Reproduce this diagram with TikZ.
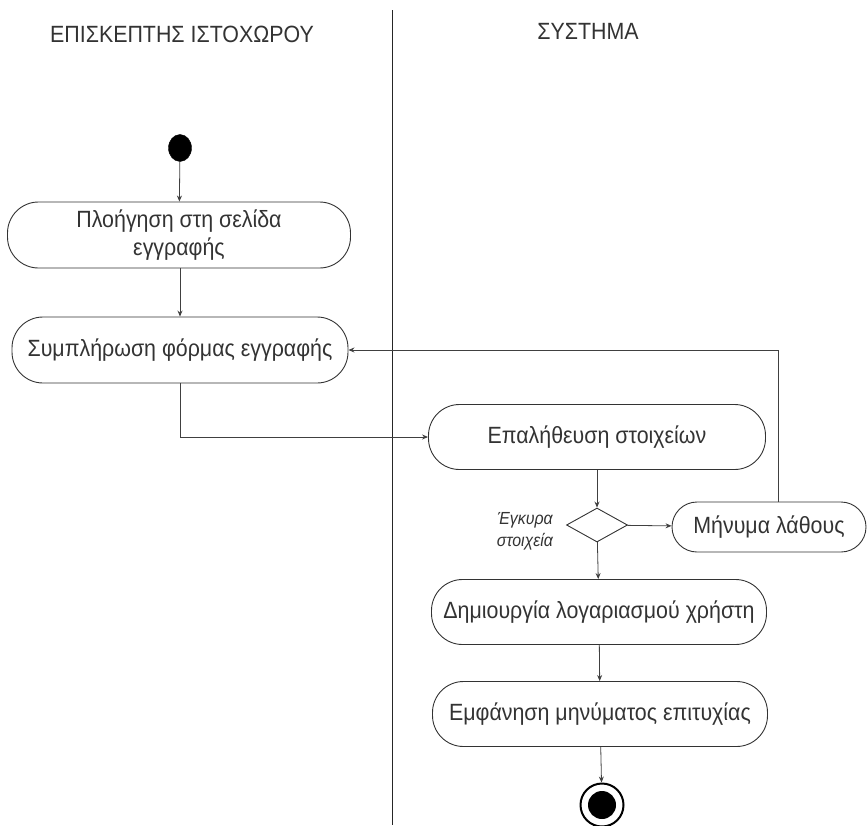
\documentclass[tikz,border=0pt]{standalone}
\usepackage{fontspec}
\setmainfont{Liberation Sans}[FakeStretch=0.91]
\usetikzlibrary{arrows.meta,shapes.geometric}
\begin{document}
\begin{tikzpicture}[x=1pt,y=-1pt,
  every node/.style={text=black!80},
  action/.style={draw=black!80, line width=0.9pt, rectangle, rounded corners=31pt,
    inner sep=0pt, align=center, font=\fontsize{23.5}{28}\selectfont},
  arr/.style={draw=black!75, line width=0.8pt, -{Stealth[length=6pt,width=5pt]}},
  lane/.style={font=\fontsize{23.5}{27}\selectfont}]
  \useasboundingbox (0,0) rectangle (867,825);

  % swimlane divider and headings
  \draw[line width=1pt, black!85] (392,10) coordinate (ltop) -- (392,825) coordinate (lbot);
  \node[lane] (h1) at (182,34) {ΕΠΙΣΚΕΠΤΗΣ ΙΣΤΟΧΩΡΟΥ};
  \node[lane] (h2) at (588,31) {ΣΥΣΤΗΜΑ};

  % initial state
  \node[ellipse, fill=black, draw=black, minimum width=23pt, minimum height=27pt, inner sep=0pt] (start) at (180,148) {};

  % visitor actions
  \node[action, minimum width=343pt, minimum height=66pt] (nav) at (179,235) {Πλοήγηση στη σελίδα\\εγγραφής};
  \node[action, minimum width=336pt, minimum height=66pt] (fill) at (180,350) {Συμπλήρωση φόρμας εγγραφής};

  % system actions
  \node[action, minimum width=337pt, minimum height=65pt] (val) at (597,437) {Επαλήθευση στοιχείων};
  \node[diamond, draw=black!80, line width=0.9pt, minimum width=61pt, minimum height=34pt, inner sep=0pt] (dec) at (597,525) {};
  \node[font=\itshape\fontsize{17.5}{22}\selectfont, align=center] (cond) at (525,531) {Έγκυρα\\στοιχεία};
  \node[action, minimum width=194pt, minimum height=50pt, rounded corners=25pt] (err) at (769,527) {Μήνυμα λάθους};
  \node[action, minimum width=335pt, minimum height=65pt] (acc) at (599,612) {Δημιουργία λογαριασμού χρήστη};
  \node[action, minimum width=335pt, minimum height=65pt] (ok) at (600,714) {Εμφάνηση μηνύματος επιτυχίας};

  % final state
  \node[circle, draw=black, line width=2pt, fill=white, minimum size=43pt, inner sep=0pt] (end) at (602,805) {};
  \node[circle, fill=black, minimum size=28pt, inner sep=0pt] (endin) at (end.center) {};

  % control flow
  \draw[arr] (start) -- (nav);
  \draw[arr] (nav.south -| fill.north) -- (fill);
  \draw[arr] (fill.south) |- (val.west);
  \draw[arr] (val) -- (dec);
  \draw[arr] (dec) -- (err);
  \draw[arr] ([xshift=9pt]err.north) |- (fill.east);
  \draw[arr] (dec) -- (acc);
  \draw[arr] (acc) -- (ok);
  \draw[arr] (ok) -- (end);
\end{tikzpicture}
\end{document}
